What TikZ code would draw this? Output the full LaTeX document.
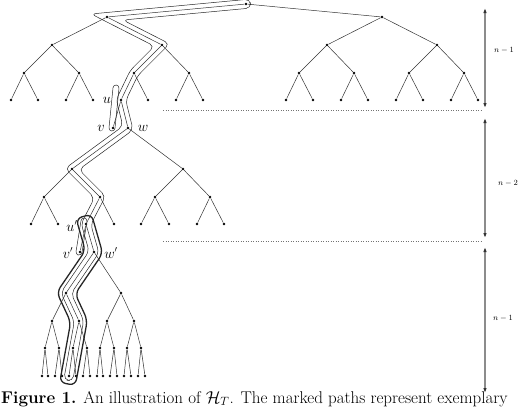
\documentclass[tikz,border=0pt]{standalone}
\usetikzlibrary{arrows.meta,calc}
% closed outline ("sausage") around a polyline with points #2p0 ... #2p#4, half width #3
\newcommand\tube[4][]{%
  \pgfmathtruncatemacro\tubeLast{#4-1}%
  \foreach \i in {0,...,\tubeLast}{%
    \pgfmathtruncatemacro\j{\i+1}%
    \coordinate (#2a\i) at ($(#2p\i)!#3!90:(#2p\j)$);
    \coordinate (#2b\i) at ($(#2p\j)!#3!-90:(#2p\i)$);
    \coordinate (#2c\i) at ($(#2p\i)!#3!-90:(#2p\j)$);
    \coordinate (#2d\i) at ($(#2p\j)!#3!90:(#2p\i)$);
  }%
  \coordinate (#2sA) at ($(#2a0)!-#3!(#2b0)$);
  \coordinate (#2sC) at ($(#2c0)!-#3!(#2d0)$);
  \coordinate (#2eB) at ($(#2b\tubeLast)!-#3!(#2a\tubeLast)$);
  \coordinate (#2eD) at ($(#2d\tubeLast)!-#3!(#2c\tubeLast)$);
  \ifnum#4>1
    \foreach \i in {1,...,\tubeLast}{%
      \pgfmathtruncatemacro\k{\i-1}%
      \coordinate (#2L\i) at (intersection cs: first line={(#2a\k)--(#2b\k)}, second line={(#2a\i)--(#2b\i)});
      \coordinate (#2R\i) at (intersection cs: first line={(#2c\k)--(#2d\k)}, second line={(#2c\i)--(#2d\i)});
    }%
    \draw[#1] (#2sA) \foreach \i in {1,...,\tubeLast}{ -- (#2L\i)} -- (#2eB) -- (#2eD)
      \foreach \i in {\tubeLast,...,1}{ -- (#2R\i)} -- (#2sC) -- cycle;
  \else
    \draw[#1] (#2sA) -- (#2eB) -- (#2eD) -- (#2sC) -- cycle;
  \fi
}
\begin{document}
\begin{tikzpicture}[x=1pt,y=-1pt,
  dot/.style={circle,fill=black,inner sep=0pt,minimum size=2.8pt},
  edge/.style={draw=black!80,line width=0.5pt},
  thintube/.style={draw=black!85,line width=0.5pt,rounded corners=5pt},
  thicktube/.style={draw=black!85,line width=1.3pt,rounded corners=6pt},
  lab/.style={inner sep=0pt,font=\fontsize{13.5}{15}\selectfont},
  dim/.style={draw=black!45,line width=1.2pt,{Latex[length=5pt,width=3.6pt,color=black!80]}-{Latex[length=5pt,width=3.6pt,color=black!80]}},
  dimlab/.style={inner sep=0pt,font=\fontsize{8}{9}\selectfont},
  sep/.style={draw=black!55,line width=0.5pt,dotted}
]
\useasboundingbox (0,0) rectangle (522,410);
% ---------- top tree ----------
\node[dot] (R) at (246,4) {};
\node[dot] (A) at (107,17) {};
\node[dot] (Ar) at (382,17) {};
\node[dot] (B1) at (52,45) {};
\node[dot] (B2) at (162,45) {};
\node[dot] (B3) at (327,45) {};
\node[dot] (B4) at (437,45) {};
\foreach \i/\x in {1/24,2/79,3/134,4/189,5/299,6/354,7/409,8/464}
  \node[dot] (C\i) at (\x,73) {};
\foreach \i/\x in {1/11,2/38,3/66,4/93,5/121,6/148,7/176,8/203,9/286,10/313,11/341,12/368,13/396,14/423,15/451,16/478}
  \node[dot] (L\i) at (\x,100) {};
\draw[edge] (R) -- (A) (R) -- (Ar);
\draw[edge] (A) -- (B1) (A) -- (B2) (Ar) -- (B3) (Ar) -- (B4);
\draw[edge] (B1) -- (C1) (B1) -- (C2) (B2) -- (C3) (B2) -- (C4);
\draw[edge] (B3) -- (C5) (B3) -- (C6) (B4) -- (C7) (B4) -- (C8);
\foreach \c/\a/\b in {1/1/2,2/3/4,3/5/6,4/7/8,5/9/10,6/11/12,7/13/14,8/15/16}
  \draw[edge] (C\c) -- (L\a) (C\c) -- (L\b);
% u, v, w
\node[dot] (v) at (113,128) {};
\node[dot] (w) at (128,128) {};
\draw[edge] (L5) -- (v) (L5) -- (w);
% ---------- middle tree ----------
\node[dot] (M1) at (72,169) {};
\node[dot] (M2) at (183,169) {};
\node[dot] (M11) at (44,197) {};
\node[dot] (M12) at (100,197) {};
\node[dot] (M21) at (155,197) {};
\node[dot] (M22) at (210,197) {};
\foreach \i/\x in {1/31,2/58,3/86,4/114,5/141,6/169,7/197,8/224}
  \node[dot] (P\i) at (\x,224) {};
\draw[edge] (w) -- (M1) (w) -- (M2);
\draw[edge] (M1) -- (M11) (M1) -- (M12) (M2) -- (M21) (M2) -- (M22);
\draw[edge] (M11) -- (P1) (M11) -- (P2) (M12) -- (P3) (M12) -- (P4)
            (M21) -- (P5) (M21) -- (P6) (M22) -- (P7) (M22) -- (P8);
% u', v', w'
\node[dot] (vp) at (80,252) {};
\node[dot] (wp) at (94,252) {};
\draw[edge] (P3) -- (vp) (P3) -- (wp);
% ---------- bottom tree ----------
\node[dot] (N1) at (66,293) {};
\node[dot] (N2) at (121,293) {};
\node[dot] (N11) at (52,321) {};
\node[dot] (N12) at (79,321) {};
\node[dot] (N21) at (107,321) {};
\node[dot] (N22) at (134,321) {};
\foreach \i/\x in {1/45,2/59,3/73,4/87,5/100,6/114,7/127,8/141}
  \node[dot] (Q\i) at (\x,348) {};
\foreach \i/\x in {1/42,2/48,3/55,4/62,5/69,6/76,7/83,8/90,9/97,10/103,11/110,12/117,13/124,14/131,15/138,16/145}
  \node[dot] (S\i) at (\x,376) {};
\draw[edge] (wp) -- (N1) (wp) -- (N2);
\draw[edge] (N1) -- (N11) (N1) -- (N12) (N2) -- (N21) (N2) -- (N22);
\draw[edge] (N11) -- (Q1) (N11) -- (Q2) (N12) -- (Q3) (N12) -- (Q4)
            (N21) -- (Q5) (N21) -- (Q6) (N22) -- (Q7) (N22) -- (Q8);
\foreach \c/\a/\b in {1/1/2,2/3/4,3/5/6,4/7/8,5/9/10,6/11/12,7/13/14,8/15/16}
  \draw[edge] (Q\c) -- (S\a) (Q\c) -- (S\b);
% ---------- labels ----------
\node[lab] (lu) at (107,100) {$u$};
\node[lab] (lv) at (101,128) {$v$};
\node[lab] (lw) at (143,128) {$w$};
\node[lab] (lup) at (72,226) {$u'$};
\node[lab] (lvp) at (68,253) {$v'$};
\node[lab] (lwp) at (111,253) {$w'$};
% ---------- marked paths ----------
% long thin path: root -> u -> w -> u' -> w' -> leaf
\coordinate (Tp0) at (R);   \coordinate (Tp1) at (A);   \coordinate (Tp2) at (B2);
\coordinate (Tp3) at (C3);  \coordinate (Tp4) at (L5);  \coordinate (Tp5) at (w);
\coordinate (Tp6) at (M1);  \coordinate (Tp7) at (M12); \coordinate (Tp8) at (P3);
\coordinate (Tp9) at (wp);
\coordinate (Tp10) at (N1);
\coordinate (Tp11) at (N12);
\coordinate (Tp12) at (S5);
\tube[thintube]{T}{4.5pt}{12}
% short thin path to v
\coordinate (Vp0) at (116,88); \coordinate (Vp1) at (112,128);
\tube[thintube,rounded corners=3pt]{V}{3pt}{1}
% short thin path to v'
\coordinate (Wp0) at (84,221); \coordinate (Wp1) at (79,252);
\tube[thintube,rounded corners=3pt]{W}{3pt}{1}
% thick path: u' -> w' -> leaf
\coordinate (Kp0) at (P3);  \coordinate (Kp1) at (wp);  \coordinate (Kp2) at (N1);
\coordinate (Kp3) at (N12); \coordinate (Kp4) at (S5);
\tube[thicktube]{K}{8pt}{4}
% ---------- separators and dimensions ----------
\coordinate (s1a) at (163,110); \coordinate (s1b) at (482,110);
\coordinate (s2a) at (163,241); \coordinate (s2b) at (482,241);
\draw[sep] (s1a) -- (s1b);
\draw[sep] (s2a) -- (s2b);
\coordinate (d1a) at (485,8);   \coordinate (d1b) at (485,108);
\coordinate (d2a) at (485,118); \coordinate (d2b) at (485,238);
\coordinate (d3a) at (485,247); \coordinate (d3b) at (485,393);
\draw[dim] (d1a) -- (d1b);
\draw[dim] (d2a) -- (d2b);
\draw[dim] (d3a) -- (d3b);
\node[dimlab] (n1) at (504,50) {$n-1$};
\node[dimlab] (n2) at (508,183) {$n-2$};
\node[dimlab] (n3) at (503,318) {$n-1$};
% ---------- caption ----------
\node[anchor=base west,inner sep=0pt,font=\fontsize{17}{19}\selectfont] (cap) at (1,403)
  {\textbf{Figure 1.} An illustration of $\mathcal{H}_T$. The marked paths represent exemplary};
\end{tikzpicture}
\end{document}
